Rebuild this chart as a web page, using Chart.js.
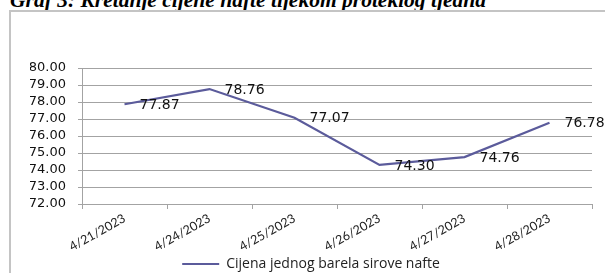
<!DOCTYPE html>
<html>
<head>
<meta charset="utf-8">
<script src="https://cdn.jsdelivr.net/npm/chart.js@4/dist/chart.umd.min.js"></script>
<style>
  html, body { margin: 0; padding: 0; background: #fff; }
  body { width: 605px; height: 273px; position: relative; overflow: hidden; }
  #title {
    position: absolute; left: 10px; top: -10px;
    font-family: "Liberation Serif", serif; font-weight: bold; font-style: italic;
    font-size: 21.5px; line-height: 20px; white-space: nowrap; color: #000;
  }
  #frame {
    position: absolute; left: 9px; top: 10px; width: 700px; height: 400px;
    border: 2px solid #c4c4c4;
  }
  #chart { position: absolute; left: 0; top: 0; }
</style>
</head>
<body>
<div id="title">Graf 3: Kretanje cijene nafte tijekom proteklog tjedna</div>
<div id="frame"></div>
<canvas id="chart" width="605" height="281"></canvas>
<script>
const dates = ["4/21/2023", "4/24/2023", "4/25/2023", "4/26/2023", "4/27/2023", "4/28/2023"];
const prices = [77.87, 78.76, 77.07, 74.30, 74.76, 76.78];
const seriesName = "Cijena jednog barela sirove nafte";
const yMin = 72;
const yMax = 80;
const yStep = 1;

const lineColor = "#5b5b9b";
const gridColor = "#a3a3a3";

// oznake vrijednosti desno od tocke
const valueLabels = {
    id: "valueLabels",
    afterDatasetsDraw(chart) {
        const ctx = chart.ctx;
        const meta = chart.getDatasetMeta(0);
        ctx.save();
        ctx.font = "14px 'DejaVu Sans'";
        ctx.fillStyle = "#111";
        ctx.textAlign = "left";
        ctx.textBaseline = "middle";
        meta.data.forEach((pt, i) => {
            ctx.fillText(prices[i].toFixed(2), pt.x + 15, pt.y + 1);
        });
        ctx.restore();
    }
};

new Chart(document.getElementById("chart"), {
    type: "line",
    data: {
        labels: dates,
        datasets: [{
            label: seriesName,
            data: prices,
            borderColor: lineColor,
            backgroundColor: lineColor,
            borderWidth: 2.2,
            pointRadius: 0,
            tension: 0,
            fill: false
        }]
    },
    options: {
        responsive: false,
        animation: false,
        layout: { padding: { left: 30, right: 13, top: 68, bottom: 0 } },
        plugins: {
            tooltip: { enabled: false },
            legend: {
                position: "bottom",
                labels: {
                    font: { family: "Open Sans", size: 14 },
                    color: "#222",
                    usePointStyle: true,
                    pointStyle: "line",
                    pointStyleWidth: 37,
                    boxHeight: 13,
                    padding: 4
                }
            }
        },
        scales: {
            x: {
                offset: true,
                grid: { offset: true, drawOnChartArea: false, tickLength: 5, color: gridColor },
                border: { color: gridColor },
                ticks: {
                    minRotation: 29, maxRotation: 29,
                    font: { family: "Lato", size: 12.5 },
                    color: "#222",
                    padding: 2
                },
                afterFit(scale) { scale.height = 49; }
            },
            y: {
                min: yMin, max: yMax,
                grid: { color: gridColor, tickLength: 4 },
                border: { color: gridColor },
                ticks: {
                    stepSize: yStep,
                    autoSkip: false,
                    font: { family: "DejaVu Sans", size: 13 },
                    color: "#111",
                    padding: 12,
                    callback: v => v.toFixed(2)
                },
                afterFit(scale) { scale.width = 52; }
            }
        }
    },
    plugins: [valueLabels]
});
</script>
</body>
</html>
